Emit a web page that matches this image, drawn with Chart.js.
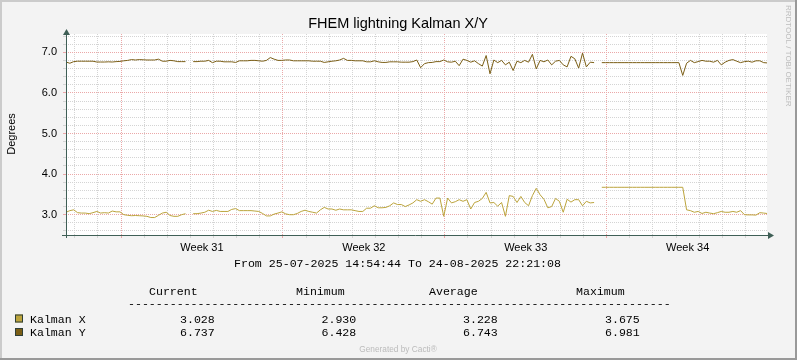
<!DOCTYPE html>
<html>
<head>
<meta charset="utf-8">
<title>FHEM lightning Kalman X/Y</title>
<script src="https://cdn.jsdelivr.net/npm/chart.js@4.4.1/dist/chart.umd.min.js"></script>
<style>
  html, body { margin: 0; padding: 0; background: #f3f3f3; }
  #wrap { width: 797px; height: 360px; position: relative; }
</style>
</head>
<body>
<div id="wrap"><canvas id="graph"></canvas></div>
<script>
// Series sampled every 4 hours from 25-07-2025 14:54:44 (null = no data)
var stepHours = 4;
var spanHours = 727.44; // 25-07-2025 14:54:44 .. 24-08-2025 22:21:08

var kalmanX = [
  3.06, 3.10, 3.12, 3.05, 3.04, 3.04, 3.025, 3.05, 3.08, 3.04,
  3.05, 3.04, 3.09, 3.07, 3.07, 3.0, 2.985, 2.975, 2.98, 2.975,
  2.97, 2.96, 2.93, 2.93, 2.985, 3.04, 3.06, 2.98, 2.96, 2.96,
  3.0, 3.025, null, 3.025, 3.025, 3.04, 3.06, 3.11, 3.08, 3.106,
  3.08, 3.08, 3.08, 3.13, 3.15, 3.10, 3.10, 3.10, 3.10, 3.09,
  3.08, 3.03, 2.97, 2.97, 3.015, 3.04, 3.07, 3.02, 3.0, 3.0,
  3.03, 3.08, 3.11, 3.08, 3.06, 3.04, 3.12, 3.18, 3.14, 3.14,
  3.11, 3.14, 3.12, 3.12, 3.12, 3.10, 3.08, 3.08, 3.16, 3.16,
  3.22, 3.17, 3.17, 3.18, 3.22, 3.29, 3.25, 3.25, 3.20, 3.24,
  3.29, 3.37, 3.33, 3.37, 3.32, 3.26, 3.41, 3.41, 2.96, 3.41,
  3.29, 3.32, 3.37, 3.33, 3.37, 3.14, 3.30, 3.33, 3.40, 3.55,
  3.29, 3.30, 3.21, 3.30, 2.96, 3.47, 3.45, 3.30, 3.45, 3.30,
  3.22, 3.47, 3.65, 3.49, 3.38, 3.17, 3.20, 3.40, 3.33, 3.06,
  3.38, 3.31, 3.37, 3.37, 3.22, 3.33, 3.29, 3.30, null, 3.675,
  3.675, 3.675, 3.675, 3.675, 3.675, 3.675, 3.675, 3.675, 3.675, 3.675,
  3.675, 3.675, 3.675, 3.675, 3.675, 3.675, 3.675, 3.675, 3.675, 3.675,
  3.675, 3.12, 3.10, 3.06, 3.08, 3.03, 3.06, 3.04, 3.025, 3.05,
  3.08, 3.06, 3.06, 3.08, 3.06, 3.10, 3.0, 2.995, 2.995, 2.99,
  3.05, 3.04, 3.028
];

var kalmanY = [
  6.76, 6.73, 6.77, 6.78, 6.78, 6.78, 6.78, 6.78, 6.76, 6.76,
  6.76, 6.765, 6.76, 6.77, 6.775, 6.79, 6.80, 6.82, 6.81, 6.82,
  6.815, 6.81, 6.81, 6.81, 6.83, 6.78, 6.78, 6.80, 6.79, 6.77,
  6.77, 6.77, null, 6.77, 6.77, 6.78, 6.78, 6.80, 6.745, 6.78,
  6.78, 6.765, 6.765, 6.765, 6.75, 6.79, 6.79, 6.79, 6.80, 6.80,
  6.79, 6.78, 6.80, 6.87, 6.83, 6.80, 6.80, 6.81, 6.81, 6.79,
  6.79, 6.79, 6.79, 6.79, 6.78, 6.78, 6.78, 6.75, 6.765, 6.78,
  6.79, 6.81, 6.85, 6.80, 6.80, 6.79, 6.79, 6.79, 6.765, 6.765,
  6.79, 6.765, 6.75, 6.75, 6.765, 6.765, 6.765, 6.756, 6.756, 6.756,
  6.77, 6.81, 6.62, 6.72, 6.745, 6.75, 6.77, 6.77, 6.81, 6.765,
  6.756, 6.78, 6.67, 6.83, 6.80, 6.756, 6.79, 6.72, 6.66, 6.92,
  6.47, 6.81, 6.745, 6.80, 6.69, 6.756, 6.55, 6.78, 6.745, 6.80,
  6.756, 6.95, 6.59, 6.80, 6.765, 6.81, 6.69, 6.78, 6.80, 6.69,
  6.64, 6.90, 6.84, 6.61, 6.98, 6.64, 6.756, 6.745, null, 6.745,
  6.745, 6.745, 6.745, 6.745, 6.745, 6.745, 6.745, 6.745, 6.745, 6.745,
  6.745, 6.745, 6.745, 6.745, 6.745, 6.745, 6.745, 6.745, 6.745, 6.745,
  6.43, 6.73, 6.80, 6.745, 6.77, 6.80, 6.78, 6.78, 6.756, 6.80,
  6.69, 6.756, 6.80, 6.82, 6.78, 6.745, 6.77, 6.78, 6.756, 6.79,
  6.79, 6.745, 6.737
];

// x axis: first midnight after start (hours), weeks 31..34 start on day index 2, 9, 16, 23
var firstMidnight = 9.0878;
var dayCount = 30;
var mondayDays = [2, 9, 16, 23];
var weekLabels = ['Week 31', 'Week 32', 'Week 33', 'Week 34'];

// y axis
var yMin = 2.5, yMax = 7.45;
var yStep = 0.2;

// legend table
var legendNames = ['Kalman X', 'Kalman Y'];
var legendCurrent = ['3.028', '6.737'];
var legendMinimum = ['2.930', '6.428'];
var legendAverage = ['3.228', '6.743'];
var legendMaximum = ['3.675', '6.981'];

var colorX = '#bca43c';
var colorY = '#7b5e16';
var seriesColors = [colorX, colorY];

var BACK = '#f3f3f3';
var GRID = '#d4d4d4';
var MGRID = '#eba8a8';
var AXIS = '#3f5f56';
var SANS = '"Liberation Sans", Arial, sans-serif';
var MONO = '"Liberation Mono", "Courier New", monospace';

function toPoints(values) {
  return values.map(function (v, i) { return { x: i * stepHours, y: v }; });
}

var dayHours = [];
for (var d = 0; d < dayCount; d++) dayHours.push(firstMidnight + d * 24);
var labelHours = mondayDays.map(function (d) { return firstMidnight + d * 24 + 3.5 * 24; });

function isLabelTick(v) {
  return labelHours.some(function (h) { return Math.abs(h - v) < 1e-6; });
}
function isMonday(v) {
  return mondayDays.some(function (d) { return Math.abs(firstMidnight + d * 24 - v) < 1e-6; });
}
function isWhole(v) {
  return Math.abs(v - Math.round(v)) < 1e-6;
}

var decor = {
  id: 'decor',
  beforeDraw: function (chart) {
    var ctx = chart.ctx, a = chart.chartArea;
    ctx.save();
    ctx.fillStyle = BACK;
    ctx.fillRect(0, 0, chart.width, chart.height);
    ctx.fillStyle = '#ffffff';
    ctx.fillRect(a.left, a.top, a.right - a.left, a.bottom - a.top);
    ctx.restore();
  },
  afterDraw: function (chart) {
    var ctx = chart.ctx, a = chart.chartArea, W = chart.width, H = chart.height;
    ctx.save();

    // 3D frame
    ctx.fillStyle = '#cbcbcb';
    ctx.fillRect(0, 0, W, 2);
    ctx.fillRect(0, 0, 2, H);
    ctx.fillStyle = '#999999';
    ctx.fillRect(0, H - 2, W, 2);
    ctx.fillRect(W - 2, 0, 2, H);

    // axes with arrows
    var ax = a.left + 0.5, ay = a.bottom + 0.5;
    ctx.strokeStyle = AXIS;
    ctx.fillStyle = AXIS;
    ctx.lineWidth = 1;
    ctx.beginPath();
    ctx.moveTo(ax, a.top - 2);
    ctx.lineTo(ax, a.bottom + 3);
    ctx.moveTo(a.left - 4, ay);
    ctx.lineTo(a.right + 2, ay);
    ctx.stroke();
    ctx.beginPath();
    ctx.moveTo(ax, a.top - 5);
    ctx.lineTo(ax - 3.5, a.top + 1);
    ctx.lineTo(ax + 3.5, a.top + 1);
    ctx.closePath();
    ctx.fill();
    ctx.beginPath();
    ctx.moveTo(a.right + 7, ay);
    ctx.lineTo(a.right + 1, ay - 3.5);
    ctx.lineTo(a.right + 1, ay + 3.5);
    ctx.closePath();
    ctx.fill();

    // title
    ctx.fillStyle = '#000000';
    ctx.font = '14.5px ' + SANS;
    ctx.textAlign = 'center';
    ctx.textBaseline = 'alphabetic';
    ctx.fillText('FHEM lightning Kalman X/Y', 398, 28);

    // vertical label
    ctx.save();
    ctx.font = '11px ' + SANS;
    ctx.translate(15, 134);
    ctx.rotate(-Math.PI / 2);
    ctx.fillText('Degrees', 0, 0);
    ctx.restore();

    // watermark on the right
    ctx.save();
    ctx.fillStyle = '#bdbdbd';
    ctx.font = '8px ' + SANS;
    ctx.textAlign = 'left';
    ctx.translate(786, 5);
    ctx.rotate(Math.PI / 2);
    ctx.fillText('RRDTOOL / TOBI OETIKER', 0, 0);
    ctx.restore();

    // legend block
    ctx.fillStyle = '#000000';
    ctx.font = '11.6px ' + MONO;
    ctx.textAlign = 'left';
    ctx.fillText('From 25-07-2025 14:54:44 To 24-08-2025 22:21:08', 234, 267);
    ctx.fillText('Current', 149, 295);
    ctx.fillText('Minimum', 296, 295);
    ctx.fillText('Average', 429, 295);
    ctx.fillText('Maximum', 576, 295);
    ctx.fillText(new Array(79).join('-'), 128, 306.5);

    var rowBase = [322.5, 336];
    for (var r = 0; r < legendNames.length; r++) {
      var by = rowBase[r];
      ctx.fillStyle = seriesColors[r];
      ctx.fillRect(15, by - 8, 8, 8);
      ctx.strokeStyle = '#2f3f37';
      ctx.strokeRect(15.5, by - 7.5, 7, 7);
      ctx.fillStyle = '#000000';
      ctx.fillText(legendNames[r], 30, by);
      ctx.fillText(legendCurrent[r], 180, by);
      ctx.fillText(legendMinimum[r], 321.5, by);
      ctx.fillText(legendAverage[r], 463, by);
      ctx.fillText(legendMaximum[r], 605, by);
    }

    ctx.fillStyle = '#bbbbbb';
    ctx.font = '8.3px ' + SANS;
    ctx.textAlign = 'center';
    ctx.fillText('Generated by Cacti\u00ae', 398, 352);

    ctx.restore();
  }
};

function initChart() {
  var el = document.getElementById('graph');
  if (!el) return;

  new Chart(el, {
    type: 'line',
    data: {
      datasets: [{
        label: legendNames[0],
        data: toPoints(kalmanX),
        borderColor: colorX,
        borderWidth: 1,
        pointRadius: 0,
        tension: 0,
        spanGaps: false
      }, {
        label: legendNames[1],
        data: toPoints(kalmanY),
        borderColor: colorY,
        borderWidth: 1,
        pointRadius: 0,
        tension: 0,
        spanGaps: false
      }]
    },
    options: {
      responsive: true,
      maintainAspectRatio: false,
      animation: false,
      events: [],
      layout: { padding: { top: 34, right: 30, left: 0, bottom: 0 } },
      plugins: { legend: { display: false }, tooltip: { enabled: false } },
      scales: {
        x: {
          type: 'linear',
          min: 0,
          max: spanHours,
          afterBuildTicks: function (s) {
            s.ticks = dayHours.concat(labelHours).sort(function (a, b) { return a - b; })
              .map(function (v) { return { value: v }; });
          },
          afterFit: function (s) { s.height = 125; },
          ticks: {
            autoSkip: false,
            maxRotation: 0,
            padding: 3,
            color: '#000000',
            font: { family: SANS, size: 11 },
            callback: function (v) {
              for (var k = 0; k < labelHours.length; k++) {
                if (Math.abs(labelHours[k] - v) < 1e-6) return weekLabels[k];
              }
              return '';
            }
          },
          grid: {
            tickLength: 3,
            lineWidth: function (c) { return isLabelTick(c.tick.value) ? 0 : 1; },
            color: function (c) { return isMonday(c.tick.value) ? MGRID : GRID; }
          },
          border: { display: false, dash: [1, 1] }
        },
        y: {
          min: yMin,
          max: yMax,
          afterBuildTicks: function (s) {
            var t = [];
            for (var v = yMin + yStep / 2; v < yMax; v += yStep) {
              var r = Math.round(v / yStep) * yStep;
              if (r > yMin && r < yMax) t.push({ value: Math.round(r * 10) / 10 });
            }
            s.ticks = t;
          },
          afterFit: function (s) { s.width = 66; },
          ticks: {
            autoSkip: false,
            padding: 6,
            color: '#000000',
            font: { family: SANS, size: 11 },
            callback: function (v) { return isWhole(v) ? v.toFixed(1) : ''; }
          },
          grid: {
            tickLength: 3,
            color: function (c) { return isWhole(c.tick.value) ? MGRID : GRID; }
          },
          border: { display: false, dash: [1, 1] }
        }
      }
    },
    plugins: [decor]
  });
}

if (document.readyState === 'loading') {
  document.addEventListener('DOMContentLoaded', initChart);
} else {
  initChart();
}
</script>
</body>
</html>
